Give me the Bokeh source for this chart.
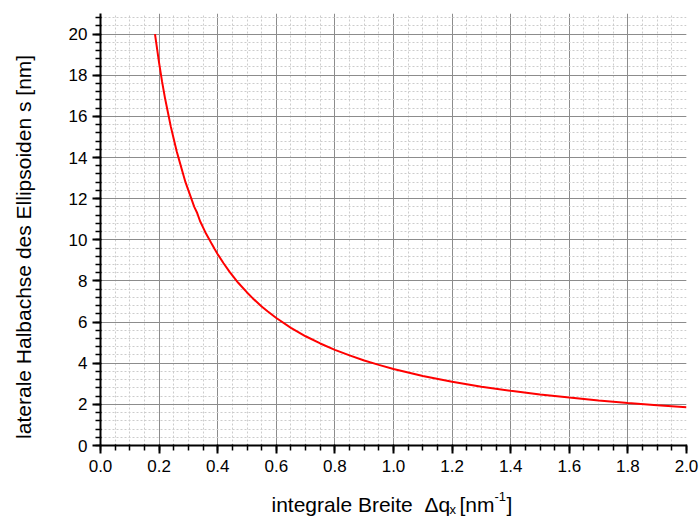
import math
from bokeh.plotting import figure
from bokeh.layouts import column, row
from bokeh.models import SingleIntervalTicker, NumeralTickFormatter, Label, ColumnDataSource
from bokeh.embed import file_html
from bokeh.resources import INLINE

# Data
dq = [0.186, 0.19, 0.20, 0.21, 0.22, 0.23, 0.24, 0.25, 0.26, 0.27, 0.28, 0.29,
      0.30, 0.31, 0.32, 0.33, 0.34, 0.35, 0.36, 0.37, 0.38, 0.39, 0.40, 0.42,
      0.44, 0.45, 0.47, 0.50, 0.52, 0.55, 0.57, 0.60, 0.65, 0.70, 0.75, 0.80,
      0.85, 0.90, 0.95, 1.00, 1.10, 1.20, 1.30, 1.40, 1.50, 1.60, 1.70, 1.80,
      1.90, 2.00]
s = [20.0, 19.6, 18.6, 17.7, 16.9, 16.2, 15.5, 14.9, 14.3, 13.8, 13.3, 12.8,
     12.4, 12.0, 11.6, 11.3, 10.9, 10.6, 10.3, 10.05, 9.79, 9.54, 9.3, 8.86,
     8.45, 8.27, 7.91, 7.44, 7.15, 6.76, 6.53, 6.2, 5.72, 5.31, 4.96, 4.65,
     4.38, 4.13, 3.92, 3.72, 3.38, 3.10, 2.86, 2.66, 2.48, 2.33, 2.19, 2.07,
     1.96, 1.86]

x_label_main = "integrale Breite \u00a0\u0394q"
x_label_sub = "x"
x_label_unit = "[nm"
x_label_sup = "-1"
x_label_close = "]"
y_label = "laterale Halbachse des Ellipsoiden s [nm]"

FONT = "Liberation Sans"
W, H = 700, 519
YLAB_W = 40
XLAB_H = 34
MAIN_H = H - XLAB_H

p = figure(width=W - YLAB_W, height=MAIN_H, x_range=(0, 2), y_range=(0, 21),
           output_backend="svg", toolbar_location=None,
           min_border_left=100 - YLAB_W, min_border_right=14, min_border_top=13,
           min_border_bottom=MAIN_H - 445)
p.outline_line_color = None

src = ColumnDataSource(dict(x=dq, y=s))
p.line("x", "y", source=src, line_color="#ff0000", line_width=2)

p.xaxis.ticker = SingleIntervalTicker(interval=0.2, num_minor_ticks=4)
p.yaxis.ticker = SingleIntervalTicker(interval=2, num_minor_ticks=5)
p.xaxis.formatter = NumeralTickFormatter(format="0.0")

for ax in (p.xaxis, p.yaxis):
    ax.axis_line_width = 2
    ax.axis_line_color = "black"
    ax.major_tick_line_width = 2
    ax.minor_tick_line_width = 1.5
    ax.major_tick_out = 8
    ax.major_tick_in = 0
    ax.minor_tick_out = 5
    ax.minor_tick_in = 1
    ax.major_label_text_font = FONT
    ax.major_label_text_font_size = "17px"
    ax.major_label_text_color = "black"
p.xaxis.major_label_standoff = 6
p.yaxis.major_label_standoff = 5

for g in (p.xgrid, p.ygrid):
    g.grid_line_color = "#8c8c8c"
    g.grid_line_width = 1
    g.minor_grid_line_color = "#cccccc"
    g.minor_grid_line_dash = "2 2"
    g.minor_grid_line_width = 1


def blank(width, height):
    f = figure(width=width, height=height, x_range=(0, width), y_range=(0, height),
               output_backend="svg", toolbar_location=None,
               x_axis_type=None, y_axis_type=None,
               min_border=0, min_border_left=0, min_border_right=0,
               min_border_top=0, min_border_bottom=0)
    f.outline_line_color = None
    f.xgrid.visible = False
    f.ygrid.visible = False
    return f


yfig = blank(YLAB_W, MAIN_H)
xfig = blank(W, XLAB_H)


def lab(fig, text, x, y, size, angle=0.0, align="left", baseline="alphabetic"):
    fig.add_layout(Label(x=x, y=y, text=text, angle=angle, text_font=FONT,
                         text_font_size=size, text_align=align,
                         text_baseline=baseline, text_color="black"))


# y label
lab(yfig, y_label, 23, 223, "21px", angle=math.pi / 2,
    align="center", baseline="middle")

# x label pieces
BASE = 15
lab(xfig, x_label_main, 271, BASE, "21px")
lab(xfig, x_label_sub, 449, BASE - 5, "13px")
lab(xfig, x_label_unit, 459, BASE, "21px")
lab(xfig, x_label_sup, 494, BASE + 8, "13px")
lab(xfig, x_label_close, 506, BASE, "21px")

layout = column(row(yfig, p, spacing=0), xfig, spacing=0)

open("out.html", "w").write(file_html(layout, INLINE))
